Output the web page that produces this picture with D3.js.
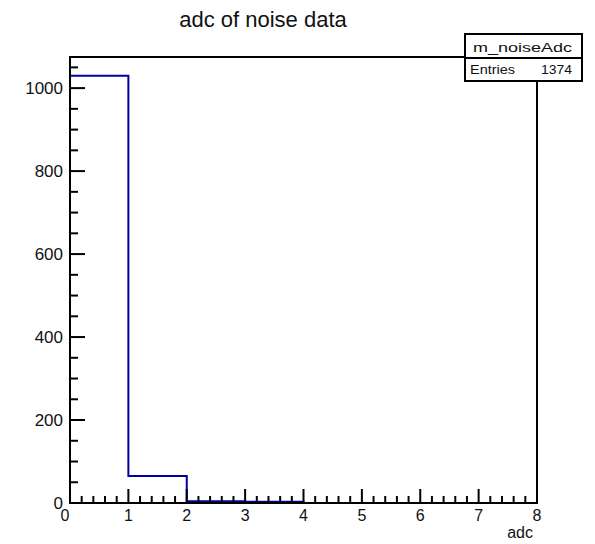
<!DOCTYPE html>
<html>
<head>
<meta charset="utf-8">
<script src="https://cdn.jsdelivr.net/npm/d3@7"></script>
<style>
  body { margin: 0; background: #fff; }
  text { font-family: "Liberation Sans", Arial, sans-serif; fill: #111; }
</style>
</head>
<body>
<svg id="chart" width="595" height="544"></svg>
<script>
// histogram bins (width 1, from 0 to 8)
const binEdges = [0, 1, 2, 3, 4, 5, 6, 7, 8];
const binCounts = [1030, 65, 4, 3, 0, 0, 0, 0];
const xTicks = [0, 1, 2, 3, 4, 5, 6, 7, 8];
const yTicks = [0, 200, 400, 600, 800, 1000];
const yMax = 1075;
const histName = "m_noiseAdc";
const entries = 1374;

const svg = d3.select("#chart");
const frameL = 70, frameR = 537, frameT = 57, frameB = 503;

let x = d3.scaleLinear().domain([0, 8]).range([frameL, frameR]);
let y = d3.scaleLinear().domain([0, yMax]).range([frameB, frameT]);

// title
svg.append("text")
    .attr("x", 263).attr("y", 27)
    .attr("text-anchor", "middle")
    .attr("font-size", "22px")
    .text("adc of noise data");

// histogram outline as a step line
let pts = [[binEdges[0], 0]];
binCounts.forEach((c, i) => {
    pts.push([binEdges[i], c]);
    pts.push([binEdges[i + 1], c]);
});
pts.push([binEdges[binEdges.length - 1], 0]);
svg.append("path")
    .attr("d", d3.line().x(d => x(d[0])).y(d => y(d[1]))(pts))
    .attr("fill", "none")
    .attr("stroke", "#00009c")
    .attr("stroke-width", 2);

// frame
svg.append("rect")
    .attr("x", frameL).attr("y", frameT)
    .attr("width", frameR - frameL).attr("height", frameB - frameT)
    .attr("fill", "none").attr("stroke", "#000").attr("stroke-width", 2);

// x axis ticks (major every 1, minor every 0.2)
const xMinor = d3.range(0, 8.001, 0.2);
svg.append("g").selectAll("line")
    .data(xMinor).enter().append("line")
    .attr("x1", d => x(d)).attr("x2", d => x(d))
    .attr("y1", frameB)
    .attr("y2", (d, i) => i % 5 === 0 ? frameB - 14 : frameB - 7)
    .attr("stroke", "#000").attr("stroke-width", 2);
svg.append("g").selectAll("text")
    .data(xTicks).enter().append("text")
    .attr("x", d => d === 0 ? x(d) - 5 : x(d)).attr("y", 521)
    .attr("text-anchor", "middle")
    .attr("font-size", "16px")
    .text(d => d);
svg.append("text")
    .attr("x", 533).attr("y", 538)
    .attr("text-anchor", "end")
    .attr("font-size", "16px")
    .text("adc");

// y axis ticks (major every 200, minor every 50)
const yMinor = d3.range(0, yMax, 50);
svg.append("g").selectAll("line")
    .data(yMinor).enter().append("line")
    .attr("y1", d => y(d)).attr("y2", d => y(d))
    .attr("x1", frameL)
    .attr("x2", (d, i) => i % 4 === 0 ? frameL + 15 : frameL + 8)
    .attr("stroke", "#000").attr("stroke-width", 2);
svg.append("g").selectAll("text")
    .data(yTicks).enter().append("text")
    .attr("x", frameL - 7).attr("y", d => y(d) + 6)
    .attr("text-anchor", "end")
    .attr("font-size", "17px")
    .text(d => d);

// stats box
const sb = svg.append("g");
sb.append("rect")
    .attr("x", 465).attr("y", 34).attr("width", 117).attr("height", 47)
    .attr("fill", "#fff").attr("stroke", "#000").attr("stroke-width", 2);
sb.append("line")
    .attr("x1", 465).attr("x2", 582).attr("y1", 58).attr("y2", 58)
    .attr("stroke", "#000").attr("stroke-width", 2);
sb.append("text")
    .attr("x", 473).attr("y", 52)
    .attr("font-size", "13px")
    .attr("textLength", 99).attr("lengthAdjust", "spacingAndGlyphs")
    .text(histName);
sb.append("text")
    .attr("x", 470).attr("y", 74)
    .attr("font-size", "13px")
    .attr("textLength", 45).attr("lengthAdjust", "spacingAndGlyphs")
    .text("Entries");
sb.append("text")
    .attr("x", 541).attr("y", 74)
    .attr("font-size", "13px")
    .attr("textLength", 31).attr("lengthAdjust", "spacingAndGlyphs")
    .text(entries);
</script>
</body>
</html>
